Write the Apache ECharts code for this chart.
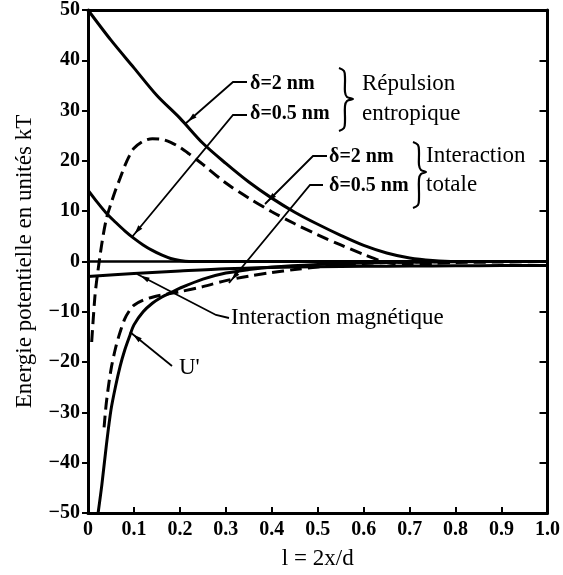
<!DOCTYPE html>
<html>
<head>
<meta charset="utf-8">
<script src="https://cdn.jsdelivr.net/npm/echarts@6/dist/echarts.min.js"></script>
<style>
html,body{margin:0;padding:0;background:#fff;}
#c{width:563px;height:575px;}
</style>
</head>
<body>
<div id="c"></div>
<script>
// Répulsion entropique, δ = 2 nm (solid)
const repul2X = [0,0.05,0.1,0.15,0.2,0.25,0.3,0.35,0.4,0.45,0.5,0.55,0.6,0.65,0.7,0.75,0.8,0.9,1.0];
const repul2Y = [50,44,38.5,33,28.5,23.5,19.5,15.8,12.6,9.8,7.4,5.2,3.2,1.7,0.7,0.2,0,0,0];
// Répulsion entropique, δ = 0.5 nm (solid)
const repul05X = [0,0.02,0.04,0.06,0.08,0.1,0.12,0.14,0.16,0.18,0.2,0.22,0.3,0.5,1.0];
const repul05Y = [14.2,11.8,9.6,7.8,6.1,4.6,3.3,2.2,1.3,0.6,0.2,0,0,0,0];
// Interaction totale, δ = 2 nm (dashed)
const tot2X = [0.008,0.015,0.02,0.03,0.04,0.05,0.06,0.07,0.08,0.09,0.1,0.12,0.14,0.16,0.18,0.2,0.22,0.25,0.3,0.35,0.4,0.45,0.5,0.55,0.6,0.65,0.7,0.75,0.8,0.9,1.0];
const tot2Y = [-16,-7,-3,3.5,8.5,11.5,14.2,16.6,19,21,22.5,23.9,24.4,24.3,23.7,22.7,21.4,19.3,15.6,12.6,9.9,7.5,5.3,3.3,1.4,-0.2,-0.6,-0.4,-0.2,-0.1,0];
// Interaction totale, δ = 0.5 nm (dashed)
const tot05X = [0.035,0.04,0.05,0.06,0.07,0.08,0.09,0.1,0.12,0.14,0.17,0.2,0.25,0.3,0.35,0.4,0.45,0.5,0.55,0.6,0.65,0.7,0.8,1.0];
const tot05Y = [-33,-28,-21.5,-17.2,-14,-11.4,-9.8,-8.7,-7.7,-7.1,-6.5,-6,-5,-3.8,-2.9,-2.2,-1.6,-1.1,-0.7,-0.4,-0.2,-0.1,0,0];
// U' (solid)
const uPrimeX = [0.022,0.03,0.04,0.05,0.06,0.07,0.08,0.09,0.1,0.12,0.14,0.16,0.18,0.2,0.25,0.3,0.35,0.4,0.5,0.6,0.7,0.8,1.0];
const uPrimeY = [-50,-44.5,-36.5,-29.5,-24.8,-20.8,-17.6,-15,-12.6,-10,-8.3,-7.1,-6.2,-5.3,-3.5,-2.3,-1.6,-1.1,-0.6,-0.3,-0.15,-0.05,0];
// Interaction magnétique (solid)
const magX = [0,0.1,0.2,0.3,0.4,0.5,0.6,0.7,0.8,0.9,1.0];
const magY = [-3,-2.4,-1.9,-1.45,-1.2,-1.05,-0.95,-0.9,-0.85,-0.82,-0.8];
// zero reference line
const zeroX = [0,1];
const zeroY = [0,0];

const xTicks = ['0','0.1','0.2','0.3','0.4','0.5','0.6','0.7','0.8','0.9','1.0'];

function pairs(xs, ys){ return xs.map((x,i)=>[x, ys[i]]); }

const SERIF = '"Liberation Serif", "Times New Roman", serif';
const chart = echarts.init(document.getElementById('c'), null, {renderer:'canvas'});

function solid(name, xs, ys, w){
  return {name, type:'line', data:pairs(xs,ys), symbol:'none', smooth:0.3,
    lineStyle:{color:'#000', width:w||3}, z:3, silent:true};
}
function dashed(name, xs, ys){
  return {name, type:'line', data:pairs(xs,ys), symbol:'none', smooth:0.3,
    lineStyle:{color:'#000', width:3, type:[12,6]}, z:3, silent:true};
}

const txt = (text, x, y, font) => ({type:'text', z:10, style:{text, x, y, font, fill:'#000', verticalAlign:'middle', align:'left'}});
const pl = (points, w) => ({type:'polyline', z:9, shape:{points}, style:{stroke:'#000', lineWidth:w||1.8, fill:null}});
const brace = (points) => ({type:'polyline', z:9, shape:{points, smooth:0.35}, style:{stroke:'#000', lineWidth:2.2, fill:null}});
// small filled arrowhead on a pointer: tip at P, pointing away from Q, set back a little from P
function arrow(Q, P, back){
  const dx = Q[0]-P[0], dy = Q[1]-P[1], L = Math.hypot(dx,dy);
  const ux = dx/L, uy = dy/L, b = back||4;
  const tip = [P[0]+ux*b, P[1]+uy*b];
  const base = [tip[0]+ux*9, tip[1]+uy*9];
  const nx = -uy*2.6, ny = ux*2.6;
  return {type:'polygon', z:9, shape:{points:[tip,[base[0]+nx,base[1]+ny],[base[0]-nx,base[1]-ny]]}, style:{fill:'#000'}};
}

const BOLD = 'bold 20px ' + SERIF;
const REG = '23px ' + SERIF;

chart.setOption({
  animation:false,
  backgroundColor:'#fff',
  grid:{left:88, right:15, top:10, bottom:60},
  xAxis:[{
    type:'value', min:0, max:1, interval:0.1, position:'bottom',
    name:'l = 2x/d', nameLocation:'middle', nameGap:34,
    nameTextStyle:{fontFamily:SERIF, fontSize:23, color:'#000'},
    axisLine:{show:true, onZero:false, lineStyle:{color:'#000', width:3}},
    axisTick:{show:true, inside:true, length:6, lineStyle:{color:'#000', width:2}},
    axisLabel:{fontFamily:SERIF, fontWeight:'bold', fontSize:20, color:'#000', margin:7,
      formatter:(v)=>xTicks[Math.round(v*10)]},
    splitLine:{show:false}
  },{
    type:'value', min:0, max:1, interval:0.1, position:'top',
    axisLine:{show:true, onZero:false, lineStyle:{color:'#000', width:3}},
    axisTick:{show:false}, axisLabel:{show:false}, splitLine:{show:false}
  }],
  yAxis:[{
    type:'value', min:-50, max:50, interval:10, position:'left',
    name:'Energie potentielle en unités kT', nameLocation:'middle', nameGap:52,
    nameTextStyle:{fontFamily:SERIF, fontSize:23, color:'#000'},
    axisLine:{show:true, onZero:false, lineStyle:{color:'#000', width:3}},
    axisTick:{show:true, inside:false, length:6, lineStyle:{color:'#000', width:2}},
    axisLabel:{fontFamily:SERIF, fontWeight:'bold', fontSize:20, color:'#000', margin:8,
      formatter:(v)=>String(v).replace('-', '\u2212')},
    splitLine:{show:false}
  },{
    type:'value', min:-50, max:50, interval:10, position:'right',
    axisLine:{show:true, onZero:false, lineStyle:{color:'#000', width:3}},
    axisTick:{show:true, inside:true, length:8, lineStyle:{color:'#000', width:2}},
    axisLabel:{show:false}, splitLine:{show:false}
  }],
  series:[
    solid('zero', zeroX, zeroY, 2.6),
    solid('Répulsion δ=2 nm', repul2X, repul2Y),
    solid('Répulsion δ=0.5 nm', repul05X, repul05Y),
    dashed('Interaction totale δ=2 nm', tot2X, tot2Y),
    dashed('Interaction totale δ=0.5 nm', tot05X, tot05Y),
    solid("U'", uPrimeX, uPrimeY),
    solid('Interaction magnétique', magX, magY)
  ],
  graphic:[
    // Répulsion entropique group
    pl([[247,82],[233,82],[185,124]]),
    arrow([233,82],[185,124]),
    pl([[247,115],[233,115],[132,237]]),
    arrow([233,115],[132,237]),
    txt('δ=2 nm', 250, 84, BOLD),
    txt('δ=0.5 nm', 250, 114, BOLD),
    brace([[339,68],[344,71],[345,78],[345,92],[347,97],[353,99],[347,101],[345,106],[345,121],[344,128],[339,131]]),
    txt('Répulsion', 362, 84, REG),
    txt('entropique', 362, 114, REG),
    // Interaction totale group
    pl([[327,156],[313,156],[265,204]]),
    arrow([313,156],[265,204]),
    pl([[323,185],[310,185],[229,283]]),
    arrow([310,185],[229,283]),
    txt('δ=2 nm', 329, 157, BOLD),
    txt('δ=0.5 nm', 329, 186, BOLD),
    brace([[413,142],[418,145],[419,152],[419,165],[421,170],[426,172],[421,174],[419,179],[419,198],[418,205],[413,208]]),
    txt('Interaction', 426, 156, REG),
    txt('totale', 426, 185, REG),
    // Interaction magnétique
    pl([[137,274],[216,315],[229,318]]),
    arrow([216,315],[137,274]),
    txt('Interaction magnétique', 231, 318, REG),
    // U'
    pl([[130,332],[172,366]]),
    arrow([172,366],[130,332]),
    txt("U'", 179, 368, REG)
  ]
});
</script>
</body>
</html>
